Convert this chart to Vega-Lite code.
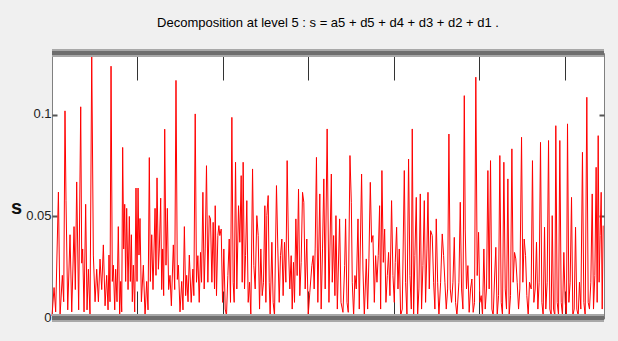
{
"$schema": "https://vega.github.io/schema/vega-lite/v6.json",
"autosize": {"type": "none"},
"width": 552, "height": 265,
"padding": {"left": 52, "top": 53, "right": 14, "bottom": 23},
"background": "#f0f0f0",
"config": {"view": {"fill": "white", "stroke": "#808080", "strokeWidth": 1}, "axis": {"grid": false}},
"title": {"text": "Decomposition at level 5 : s = a5 + d5 + d4 + d3 + d2 + d1 .", "font": "Liberation Sans, Arial, sans-serif", "fontSize": 13, "fontWeight": "normal", "color": "#000000", "anchor": "middle", "offset": 20},
"datasets": {"sig": [
{"t":0,"s":0.001},{"t":2.4,"s":0.015},{"t":4.3,"s":0.003},{"t":7.5,"s":0.062},{"t":9.4,"s":0.001},{"t":12.1,"s":0.021},{"t":13.7,"s":0.008},{"t":15.2,"s":0.102},{"t":16.4,"s":0.058},{"t":18.4,"s":0.004},{"t":21.1,"s":0.041},{"t":23.1,"s":0.003},{"t":25.8,"s":0.045},{"t":27.3,"s":0.014},{"t":28.9,"s":0.067},{"t":31.2,"s":0.004},{"t":33.6,"s":0.104},{"t":34.8,"s":0.027},{"t":35.9,"s":0.034},{"t":37.5,"s":0.003},{"t":39.4,"s":0.056},{"t":41.0,"s":0.004},{"t":42.6,"s":0.024},{"t":44.5,"s":0.001},{"t":46.5,"s":0.130},{"t":48.4,"s":0.031},{"t":50.4,"s":0.008},{"t":52.3,"s":0.024},{"t":54.3,"s":0.008},{"t":56.2,"s":0.029},{"t":58.2,"s":0.014},{"t":60.1,"s":0.036},{"t":62.1,"s":0.006},{"t":64.0,"s":0.021},{"t":65.6,"s":0.004},{"t":66.7,"s":0.031},{"t":67.9,"s":0.008},{"t":69.1,"s":0.124},{"t":70.6,"s":0.018},{"t":71.8,"s":0.026},{"t":73.4,"s":0.004},{"t":74.5,"s":0.024},{"t":76.1,"s":0.008},{"t":77.6,"s":0.045},{"t":79.2,"s":0.001},{"t":80.4,"s":0.018},{"t":81.6,"s":0.003},{"t":82.7,"s":0.084},{"t":83.9,"s":0.034},{"t":85.1,"s":0.056},{"t":86.2,"s":0.018},{"t":87.4,"s":0.054},{"t":89.0,"s":0.014},{"t":90.5,"s":0.050},{"t":91.7,"s":0.018},{"t":92.9,"s":0.041},{"t":94.0,"s":0.008},{"t":95.2,"s":0.026},{"t":96.8,"s":0.003},{"t":98.3,"s":0.064},{"t":99.5,"s":0.018},{"t":100.7,"s":0.064},{"t":101.8,"s":0.031},{"t":103.0,"s":0.049},{"t":104.6,"s":0.008},{"t":106.9,"s":0.026},{"t":108.9,"s":0.001},{"t":110.8,"s":0.018},{"t":112.4,"s":0.004},{"t":113.9,"s":0.079},{"t":115.1,"s":0.018},{"t":116.7,"s":0.041},{"t":118.2,"s":0.014},{"t":120.6,"s":0.054},{"t":121.7,"s":0.021},{"t":122.9,"s":0.069},{"t":124.5,"s":0.024},{"t":125.6,"s":0.034},{"t":127.2,"s":0.059},{"t":128.4,"s":0.014},{"t":129.5,"s":0.034},{"t":130.7,"s":0.011},{"t":131.9,"s":0.093},{"t":133.4,"s":0.026},{"t":135.0,"s":0.054},{"t":136.5,"s":0.014},{"t":138.1,"s":0.021},{"t":139.7,"s":0.006},{"t":142.0,"s":0.036},{"t":143.6,"s":0.014},{"t":145.1,"s":0.117},{"t":146.7,"s":0.019},{"t":147.9,"s":0.026},{"t":149.8,"s":0.003},{"t":151.8,"s":0.018},{"t":153.3,"s":0.004},{"t":154.9,"s":0.045},{"t":156.4,"s":0.011},{"t":157.6,"s":0.021},{"t":159.2,"s":0.008},{"t":160.7,"s":0.031},
{"t":162.9,"s":0.0077},{"t":164.9,"s":0.0241},{"t":166.0,"s":0.011},{"t":167.6,"s":0.1005},{"t":169.1,"s":0.0176},{"t":170.7,"s":0.0307},{"t":172.3,"s":0.0077},{"t":173.8,"s":0.0323},{"t":175.0,"s":0.0176},{"t":176.6,"s":0.0619},{"t":178.1,"s":0.0143},{"t":179.3,"s":0.034},{"t":180.8,"s":0.075},{"t":182.4,"s":0.0176},{"t":184.0,"s":0.0504},{"t":185.5,"s":0.0488},{"t":187.1,"s":0.0176},{"t":188.6,"s":0.0471},{"t":190.2,"s":0.0143},{"t":191.0,"s":0.0553},{"t":192.5,"s":0.011},{"t":194.1,"s":0.0406},{"t":195.3,"s":0.0455},{"t":196.4,"s":0.0406},{"t":198.0,"s":0.0438},{"t":199.6,"s":0.0077},{"t":201.1,"s":0.034},{"t":202.7,"s":0.0044},{"t":204.2,"s":0.0011},{"t":205.8,"s":0.0209},{"t":207.4,"s":0.0389},{"t":208.9,"s":0.0077},{"t":210.5,"s":0.0988},{"t":212.0,"s":0.0176},{"t":213.2,"s":0.0077},{"t":214.8,"s":0.0767},{"t":216.3,"s":0.0143},{"t":218.3,"s":0.0553},{"t":219.8,"s":0.0373},{"t":221.4,"s":0.0701},{"t":222.6,"s":0.0176},{"t":223.7,"s":0.0767},{"t":225.3,"s":0.0143},{"t":226.5,"s":0.0307},{"t":228.0,"s":0.0578},{"t":229.6,"s":0.0077},{"t":231.2,"s":0.0176},{"t":232.7,"s":0.0011},{"t":234.7,"s":0.0734},{"t":236.2,"s":0.0258},{"t":237.8,"s":0.0143},{"t":239.7,"s":0.0504},{"t":241.3,"s":0.0406},{"t":242.9,"s":0.0044},{"t":244.4,"s":0.034},{"t":246.0,"s":0.011},{"t":247.5,"s":0.0176},{"t":249.1,"s":0.0553},{"t":250.3,"s":0.0077},{"t":251.4,"s":0.0504},{"t":253.0,"s":0.0603},{"t":254.2,"s":0.0176},{"t":255.3,"s":0.0011},{"t":257.3,"s":0.0373},{"t":258.8,"s":0.0077},{"t":260.4,"s":0.0011},{"t":262.7,"s":0.0652},{"t":264.3,"s":0.034},{"t":265.9,"s":0.0077},{"t":267.4,"s":0.0307},{"t":269.0,"s":0.0389},{"t":270.5,"s":0.011},{"t":272.1,"s":0.0373},{"t":273.7,"s":0.0176},{"t":275.2,"s":0.0775},{"t":276.8,"s":0.034},{"t":278.3,"s":0.0143},{"t":279.9,"s":0.0307},{"t":281.1,"s":0.0044},{"t":282.6,"s":0.0274},{"t":283.8,"s":0.0077},{"t":285.4,"s":0.0488},{"t":286.9,"s":0.0209},{"t":288.5,"s":0.0635},{"t":290.0,"s":0.011},{"t":291.6,"s":0.0274},{"t":293.2,"s":0.0619},{"t":294.7,"s":0.057},{"t":296.3,"s":0.0143},{"t":298.2,"s":0.0389},{"t":299.8,"s":0.0011},{"t":301.7,"s":0.0126},{"t":304.1,"s":0.0258},{"t":305.6,"s":0.0307},{"t":306.8,"s":0.0143},{"t":308.0,"s":0.034},{"t":309.5,"s":0.0791},{"t":311.1,"s":0.0077},{"t":313.4,"s":0.0611},{"t":315.0,"s":0.0044},{"t":316.6,"s":0.034},{"t":318.1,"s":0.0685},{"t":319.7,"s":0.0143},{"t":322.0,"s":0.0931},
{"t":324.1,"s":0.0077},{"t":326.9,"s":0.0709},{"t":328.0,"s":0.0176},{"t":329.6,"s":0.0406},{"t":331.1,"s":0.011},{"t":332.3,"s":0.0504},{"t":333.9,"s":0.0044},{"t":336.6,"s":0.0488},{"t":338.2,"s":0.0077},{"t":340.5,"s":0.0028},{"t":342.5,"s":0.0258},{"t":343.6,"s":0.0488},{"t":345.2,"s":0.0077},{"t":346.7,"s":0.0028},{"t":348.7,"s":0.08},{"t":350.3,"s":0.057},{"t":351.4,"s":0.0176},{"t":353.0,"s":0.0011},{"t":354.5,"s":0.0209},{"t":356.1,"s":0.0143},{"t":358.1,"s":0.0488},{"t":359.6,"s":0.0044},{"t":362.3,"s":0.0709},{"t":363.9,"s":0.0241},{"t":365.5,"s":0.0011},{"t":367.8,"s":0.0291},{"t":369.4,"s":0.0044},{"t":370.9,"s":0.0291},{"t":372.5,"s":0.0668},{"t":374.0,"s":0.0373},{"t":375.6,"s":0.0406},{"t":377.2,"s":0.0077},{"t":378.7,"s":0.0307},{"t":380.3,"s":0.0176},{"t":381.8,"s":0.0307},{"t":383.4,"s":0.0553},{"t":384.6,"s":0.0044},{"t":386.1,"s":0.0726},{"t":387.7,"s":0.0274},{"t":389.3,"s":0.0438},{"t":390.8,"s":0.0077},{"t":392.4,"s":0.0209},{"t":393.9,"s":0.0323},{"t":395.5,"s":0.011},{"t":397.4,"s":0.0578},{"t":399.0,"s":0.0209},{"t":400.6,"s":0.0077},{"t":401.7,"s":0.0274},{"t":403.3,"s":0.0447},{"t":404.9,"s":0.0143},{"t":406.4,"s":0.034},{"t":408.0,"s":0.0011},{"t":409.9,"s":0.0044},{"t":412.3,"s":0.0726},{"t":413.8,"s":0.0176},{"t":415.4,"s":0.0011},{"t":417.3,"s":0.0783},{"t":418.9,"s":0.0209},{"t":420.5,"s":0.0044},{"t":421.6,"s":0.0931},{"t":423.2,"s":0.0011},{"t":424.7,"s":0.0307},{"t":426.3,"s":0.0594},{"t":427.9,"s":0.0011},{"t":429.4,"s":0.0143},{"t":431.0,"s":0.0611},{"t":432.5,"s":0.0044},{"t":434.1,"s":0.0258},{"t":435.7,"s":0.0578},{"t":437.2,"s":0.0077},{"t":438.8,"s":0.034},{"t":440.0,"s":0.0619},{"t":441.5,"s":0.0143},{"t":443.1,"s":0.043},{"t":445.0,"s":0.0406},{"t":446.6,"s":0.0176},{"t":448.1,"s":0.0044},{"t":449.7,"s":0.0488},{"t":451.3,"s":0.0176},{"t":452.8,"s":0.0011},{"t":454.8,"s":0.0176},{"t":456.7,"s":0.0414},{"t":458.3,"s":0.0307},{"t":459.8,"s":0.0176},{"t":461.4,"s":0.0044},{"t":463.0,"s":0.0143},{"t":464.5,"s":0.0906},{"t":466.1,"s":0.0143},{"t":467.6,"s":0.0077},{"t":469.2,"s":0.0176},{"t":470.8,"s":0.0397},{"t":472.3,"s":0.0077},{"t":473.9,"s":0.0011},{"t":476.2,"s":0.0176},{"t":477.8,"s":0.057},{"t":479.3,"s":0.0143},{"t":480.9,"s":0.0044},{"t":482.5,"s":0.1095},
{"t":483.6,"s":0.0438},{"t":485.1,"s":0.0143},{"t":486.7,"s":0.0258},{"t":488.2,"s":0.0028},{"t":489.8,"s":0.0143},{"t":491.4,"s":0.0192},{"t":492.9,"s":0.0028},{"t":494.5,"s":0.0077},{"t":496.0,"s":0.1186},{"t":497.6,"s":0.0209},{"t":499.2,"s":0.0422},{"t":500.7,"s":0.0077},{"t":502.3,"s":0.011},{"t":503.8,"s":0.0011},{"t":505.4,"s":0.034},{"t":507.0,"s":0.0044},{"t":508.5,"s":0.0143},{"t":510.1,"s":0.0726},{"t":511.6,"s":0.0143},{"t":513.2,"s":0.0775},{"t":514.8,"s":0.0044},{"t":516.3,"s":0.0011},{"t":517.9,"s":0.0192},{"t":519.4,"s":0.0348},{"t":521.0,"s":0.0011},{"t":522.6,"s":0.011},{"t":524.1,"s":0.08},{"t":525.7,"s":0.0077},{"t":527.2,"s":0.0011},{"t":528.8,"s":0.0767},{"t":530.4,"s":0.0143},{"t":531.9,"s":0.0044},{"t":533.5,"s":0.0685},{"t":535.0,"s":0.0011},{"t":536.6,"s":0.011},{"t":538.2,"s":0.0833},{"t":539.7,"s":0.0176},{"t":541.3,"s":0.0323},{"t":542.8,"s":0.0291},{"t":544.4,"s":0.0176},{"t":546.0,"s":0.0044},{"t":547.5,"s":0.0143},{"t":549.5,"s":0.089},{"t":551.0,"s":0.0176},{"t":552.6,"s":0.0389},{"t":554.2,"s":0.0307},{"t":555.7,"s":0.011},{"t":557.3,"s":0.0011},{"t":558.8,"s":0.0176},{"t":560.8,"s":0.0143},{"t":562.3,"s":0.0775},{"t":563.9,"s":0.0077},{"t":565.5,"s":0.0143},{"t":567.0,"s":0.0373},{"t":568.6,"s":0.0044},{"t":570.1,"s":0.0176},{"t":571.7,"s":0.0865},{"t":573.3,"s":0.0077},{"t":574.8,"s":0.0011},{"t":576.4,"s":0.0447},{"t":577.9,"s":0.0044},{"t":579.5,"s":0.0176},{"t":581.1,"s":0.0874},{"t":582.6,"s":0.0044},{"t":584.2,"s":0.0011},{"t":585.4,"s":0.0504},{"t":586.9,"s":0.0044},{"t":588.5,"s":0.0011},{"t":589.6,"s":0.0947},{"t":591.2,"s":0.0077},{"t":592.8,"s":0.0011},{"t":594.3,"s":0.0874},{"t":595.9,"s":0.0077},{"t":597.4,"s":0.0011},{"t":599.0,"s":0.0323},{"t":600.6,"s":0.0077},{"t":602.1,"s":0.0011},{"t":603.3,"s":0.0956},{"t":604.9,"s":0.0077},{"t":606.4,"s":0.0176},{"t":608.0,"s":0.0594},{"t":609.5,"s":0.0011},{"t":611.1,"s":0.0044},{"t":612.7,"s":0.0447},{"t":614.2,"s":0.0044},{"t":615.8,"s":0.0011},{"t":617.3,"s":0.0176},{"t":618.9,"s":0.0044},{"t":620.8,"s":0.0816},{"t":622.4,"s":0.0077},{"t":624.0,"s":0.0011},{"t":625.9,"s":0.1087},{"t":627.5,"s":0.0077},{"t":629.0,"s":0.0044},{"t":630.6,"s":0.0176},{"t":632.2,"s":0.0611},{"t":633.7,"s":0.0044},{"t":635.3,"s":0.0209},{"t":636.8,"s":0.0742},{"t":638.0,"s":0.0077},{"t":639.2,"s":0.0898},{"t":640.3,"s":0.0176},{"t":641.5,"s":0.0406},{"t":642.7,"s":0.0619},{"t":643.9,"s":0.0044},{"t":645.0,"s":0.0455}
]},
"data": {"name": "sig"},
"resolve": {"axis": {"x": "independent", "y": "independent"}},
"layer": [
{"mark": {"type": "line", "color": "#ff0000", "strokeWidth": 1},
 "encoding": {
  "x": {"field": "t", "type": "quantitative", "scale": {"domain": [0, 646], "nice": false, "zero": false},
        "axis": {"orient": "top", "values": [100, 200, 300, 400, 500, 600], "labels": false, "domain": false, "tickSize": -27, "tickColor": "#333333", "tickWidth": 1, "title": null}},
  "y": {"field": "s", "type": "quantitative", "scale": {"domain": [0, 0.1305], "nice": false},
        "axis": {"orient": "left", "values": [0, 0.05, 0.1], "format": "~g", "domain": false, "tickSize": -5, "tickWidth": 2, "tickColor": "#555555", "labelFont": "Liberation Sans, Arial, sans-serif", "labelFontSize": 13, "labelColor": "#222222", "labelPadding": 6, "labelBaseline": "top", "labelOffset": -7, "title": "s", "titleAngle": 0, "titleX": -36, "titleY": 154, "titleFontSize": 20, "titleFontWeight": "bold", "titleColor": "#111111", "titleAlign": "center", "titleBaseline": "middle", "titleFont": "Liberation Sans, sans-serif"}}
 }},
{"mark": {"type": "line", "strokeOpacity": 0},
 "encoding": {
  "x": {"field": "t", "type": "quantitative", "axis": {"orient": "bottom", "values": [100, 200, 300, 400, 500, 600], "labels": false, "domain": false, "tickSize": -27, "tickColor": "#333333", "tickWidth": 1, "title": null}},
  "y": {"field": "s", "type": "quantitative", "axis": {"orient": "right", "values": [0, 0.05, 0.1], "labels": false, "domain": false, "tickSize": -5, "tickWidth": 2, "tickColor": "#555555", "title": null}}
 }},
{"mark": {"type": "rule", "color": "#a8a8a8", "strokeWidth": 7}, "encoding": {"y": {"datum": 0, "axis": null}}},
{"mark": {"type": "rule", "color": "#6e6e6e", "strokeWidth": 3}, "encoding": {"y": {"datum": 0, "axis": null}}},
{"mark": {"type": "rule", "color": "#a8a8a8", "strokeWidth": 7}, "encoding": {"y": {"datum": 0.1305, "axis": null}}},
{"mark": {"type": "rule", "color": "#6e6e6e", "strokeWidth": 3}, "encoding": {"y": {"datum": 0.1305, "axis": null}}}
]
}
